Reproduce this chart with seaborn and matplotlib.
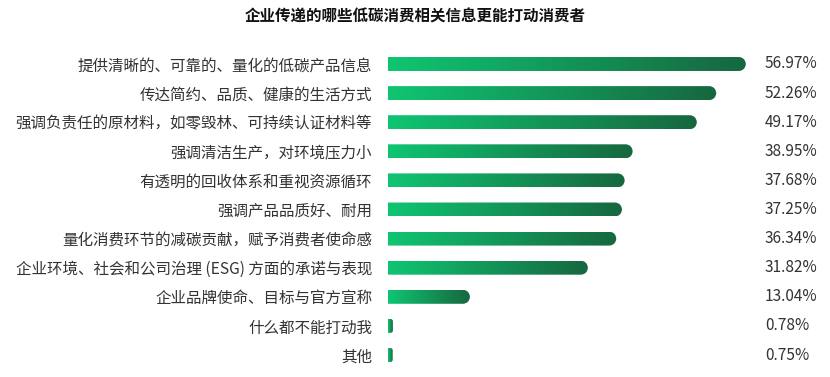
import numpy as np
import pandas as pd
import matplotlib
matplotlib.use('Agg')
import matplotlib.pyplot as plt
import seaborn as sns
from matplotlib.path import Path
from matplotlib.transforms import IdentityTransform, blended_transform_factory
from matplotlib.colors import LinearSegmentedColormap

categories = [
    "提供清晰的、可靠的、量化的低碳产品信息",
    "传达简约、品质、健康的生活方式",
    "强调负责任的原材料，如零毁林、可持续认证材料等",
    "强调清洁生产，对环境压力小",
    "有透明的回收体系和重视资源循环",
    "强调产品品质好、耐用",
    "量化消费环节的减碳贡献，赋予消费者使命感",
    "企业环境、社会和公司治理 (ESG) 方面的承诺与表现",
    "企业品牌使命、目标与官方宣称",
    "什么都不能打动我",
    "其他",
]
values = [56.97, 52.26, 49.17, 38.95, 37.68, 37.25, 36.34, 31.82, 13.04, 0.78, 0.75]
value_labels = [f"{v:.2f}%" for v in values]
title = "企业传递的哪些低碳消费相关信息更能打动消费者"

sns.set_theme(style="white")
plt.rcParams['font.family'] = ['Noto Sans CJK SC', 'DejaVu Sans']

W, H = 830, 377
fig = plt.figure(figsize=(W / 100, H / 100), dpi=100)
ax = fig.add_axes([388 / W, 7.45 / H, 376.8 / W, 320.1 / H])

df = pd.DataFrame({"cat": categories, "val": values})
sns.barplot(data=df, x="val", y="cat", orient="h", width=0.48,
            color="#10c473", ax=ax)
ax.set_xlim(0, 60)
ax.set_ylim(10.5, -0.5)

cmap = LinearSegmentedColormap.from_list("g", ["#0fc572", "#17673f"])
grad = np.linspace(0, 1, 256).reshape(1, -1)

fig.canvas.draw()
patches = list(ax.patches)
for p in patches:
    x0, y0 = p.get_x(), p.get_y()
    w, h = p.get_width(), p.get_height()
    p.set_visible(False)
    im = ax.imshow(grad, cmap=cmap, aspect="auto", interpolation="bicubic",
                   extent=(x0, x0 + w, y0 + h, y0), zorder=2)
    # clip path in display coords: flat left, rounded right end
    (dx0, dy0), (dx1, dy1) = ax.transData.transform([(x0, y0 + h), (x0 + w, y0)])
    bot, top = min(dy0, dy1), max(dy0, dy1)
    r = min((top - bot) / 2, (dx1 - dx0) / 2)
    arc1 = Path.arc(-90, 0)
    arc2 = Path.arc(0, 90)
    verts = [(dx0, bot), (dx1 - r, bot)]
    codes = [Path.MOVETO, Path.LINETO]
    v1 = arc1.vertices * r + np.array([dx1 - r, bot + r])
    verts += list(map(tuple, v1[1:]))
    codes += list(arc1.codes[1:])
    verts.append((dx1, top - r))
    codes.append(Path.LINETO)
    v2 = arc2.vertices * r + np.array([dx1 - r, top - r])
    verts += list(map(tuple, v2[1:]))
    codes += list(arc2.codes[1:])
    verts += [(dx0, top), (dx0, bot)]
    codes += [Path.LINETO, Path.CLOSEPOLY]
    im.set_clip_path(Path(verts, codes), IdentityTransform())

ax.set_xlim(0, 60)
ax.set_ylim(10.5, -0.5)

trans = blended_transform_factory(fig.transFigure, ax.transData)
for i, lab in enumerate(value_labels):
    ax.text(765 / W, i, lab, transform=trans, fontsize=11.1, color="#333333",
            va="center", ha="left", clip_on=False)

ax.set_xlabel("")
ax.set_ylabel("")
ax.set_xticks([])
ax.tick_params(axis="y", length=0, pad=11.5, labelsize=11.2, labelcolor="#333333")
for s in ax.spines.values():
    s.set_visible(False)

fig.text(0.5, 1 - 17 / H, title, ha="center", va="center", fontsize=11.2,
         fontweight="bold", color="#111111")

fig.savefig("out.png", dpi=100)
